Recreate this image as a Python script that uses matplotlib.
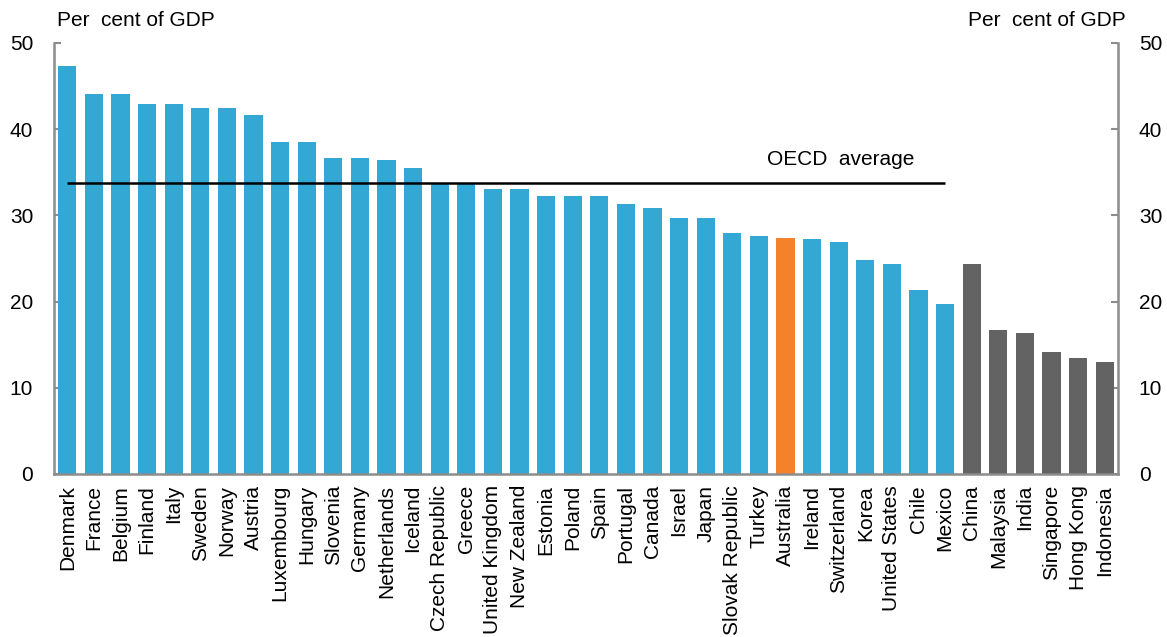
import matplotlib
matplotlib.use('Agg')
import matplotlib.pyplot as plt

plt.rcParams['font.family'] = ['Liberation Sans', 'DejaVu Sans']

countries = ['Denmark', 'France', 'Belgium', 'Finland', 'Italy', 'Sweden', 'Norway',
             'Austria', 'Luxembourg', 'Hungary', 'Slovenia', 'Germany', 'Netherlands',
             'Iceland', 'Czech Republic', 'Greece', 'United Kingdom', 'New Zealand',
             'Estonia', 'Poland', 'Spain', 'Portugal', 'Canada', 'Israel', 'Japan',
             'Slovak Republic', 'Turkey', 'Australia', 'Ireland', 'Switzerland', 'Korea',
             'United States', 'Chile', 'Mexico', 'China', 'Malaysia', 'India',
             'Singapore', 'Hong Kong', 'Indonesia']
tax_share = [47.3, 44.1, 44.1, 42.9, 42.9, 42.4, 42.4, 41.7, 38.5, 38.5, 36.6, 36.6,
             36.4, 35.5, 33.8, 33.8, 33.1, 33.1, 32.2, 32.2, 32.2, 31.3, 30.8, 29.7,
             29.7, 28.0, 27.6, 27.4, 27.3, 26.9, 24.8, 24.3, 21.3, 19.7, 24.4, 16.7,
             16.3, 14.2, 13.5, 13.0]
non_oecd = ['China', 'Malaysia', 'India', 'Singapore', 'Hong Kong', 'Indonesia']
oecd_avg = 33.8

blue = '#33A8D4'
orange = '#F5822A'
grey = '#636363'
colors = []
for c in countries:
    if c == 'Australia':
        colors.append(orange)
    elif c in non_oecd:
        colors.append(grey)
    else:
        colors.append(blue)

fig = plt.figure(figsize=(11.67, 6.37), dpi=100)
ax = fig.add_axes([0.0463, 0.256, 0.9117, 0.6765])

x = list(range(len(countries)))
ax.bar(x, tax_share, width=0.68, color=colors, edgecolor='none', zorder=2)

# OECD average line across the OECD members only
last_oecd = countries.index('Mexico')
ax.hlines(oecd_avg, 0, last_oecd, color='black', linewidth=1.8, zorder=3)
ax.text(26.3, 36.5, 'OECD  average', fontsize=15, ha='left', va='center')

ax.set_xlim(-0.5, len(countries) - 0.5)
ax.set_ylim(0, 50)
ax.set_yticks([0, 10, 20, 30, 40, 50])
ax.set_xticks(x)
ax.set_xticklabels(countries, rotation=90, fontsize=15, va='top')
ax.tick_params(axis='x', length=0, pad=8)
ax.tick_params(axis='y', direction='in', length=5, width=1.5, color='#8c8c8c',
               labelsize=15, pad=15, left=True, right=True, labelleft=True,
               labelright=True)

for side in ['left', 'right', 'bottom']:
    ax.spines[side].set_color('#8c8c8c')
    ax.spines[side].set_linewidth(1.8)
ax.spines['top'].set_visible(False)

fig.text(57 / 1167, 1 - 20 / 637, 'Per  cent of GDP', fontsize=15, ha='left', va='center')
fig.text(1126 / 1167, 1 - 20 / 637, 'Per  cent of GDP', fontsize=15, ha='right', va='center')

fig.savefig('out.png', dpi=100)
